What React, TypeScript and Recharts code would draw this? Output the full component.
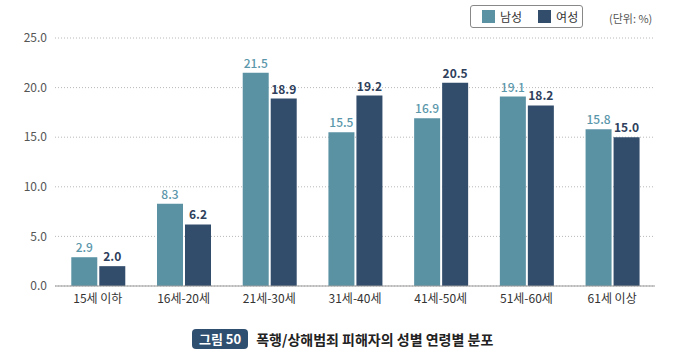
import { BarChart, Bar, XAxis, YAxis, CartesianGrid, LabelList } from 'recharts';

const categories = ['15세 이하', '16세-20세', '21세-30세', '31세-40세', '41세-50세', '51세-60세', '61세 이상'];
const maleValues = [2.9, 8.3, 21.5, 15.5, 16.9, 19.1, 15.8];
const femaleValues = [2.0, 6.2, 18.9, 19.2, 20.5, 18.2, 15.0];
const yTicks = [0, 5, 10, 15, 20, 25];

const MALE = '#5a92a4';
const FEMALE = '#324c6c';
const FONT = '"Noto Sans CJK KR", "Noto Sans", sans-serif';

const data = categories.map((name, i) => ({
  name,
  male: maleValues[i],
  female: femaleValues[i],
}));

function LegendBox() {
  const item = (color: string, label: string, mr: number) => (
    <span style={{ display: 'inline-flex', alignItems: 'center', marginRight: mr, whiteSpace: 'nowrap' }}>
      <span style={{ width: 13, height: 13, background: color, display: 'inline-block', marginRight: 5 }} />
      <span style={{ fontSize: 12, color: '#333', lineHeight: '14px' }}>{label}</span>
    </span>
  );
  return (
    <div
      style={{
        position: 'absolute',
        left: 470,
        top: 5,
        width: 113,
        height: 23,
        boxSizing: 'border-box',
        border: '1px solid #888',
        borderRadius: 3,
        paddingLeft: 11,
        display: 'flex',
        alignItems: 'center',
        fontFamily: FONT,
        background: '#fff',
      }}
    >
      {item(MALE, '남성', 16)}
      {item(FEMALE, '여성', 0)}
    </div>
  );
}

export default function App() {
  return (
    <div style={{ position: 'absolute', left: 0, top: 0, width: 675, height: 358, background: '#fff', fontFamily: FONT }}>
      <BarChart
        width={675}
        height={320}
        data={data}
        margin={{ top: 38, right: 20, left: 0, bottom: 4 }}
        barCategoryGap="19%"
        barGap={2}
      >
        <CartesianGrid vertical={false} stroke="#b8b8b8" strokeDasharray="1 2" />
        <XAxis
          dataKey="name"
          tick={{ fontSize: 12, fill: '#333', fontFamily: FONT }}
          tickLine={false}
          axisLine={{ stroke: '#999' }}
          interval={0}
        />
        <YAxis
          width={55}
          domain={[0, 25]}
          ticks={yTicks}
          tickFormatter={(v: number) => v.toFixed(1)}
          tick={{ fontSize: 12, fill: '#555', fontFamily: FONT }}
          tickLine={false}
          axisLine={false}
        />
        <Bar dataKey="male" fill={MALE} isAnimationActive={false}>
          <LabelList
            dataKey="male"
            position="top"
            formatter={(v: number) => v.toFixed(1)}
            style={{ fontSize: 12, fill: '#5b97ab', fontWeight: 500, fontFamily: FONT }}
          />
        </Bar>
        <Bar dataKey="female" fill={FEMALE} isAnimationActive={false}>
          <LabelList
            dataKey="female"
            position="top"
            formatter={(v: number) => v.toFixed(1)}
            style={{ fontSize: 12, fill: '#2e405c', fontWeight: 600, fontFamily: FONT }}
          />
        </Bar>
      </BarChart>
      <LegendBox />
      <div style={{ position: 'absolute', left: 609, top: 10, fontSize: 11, color: '#555' }}>(단위: %)</div>
      <div style={{ position: 'absolute', left: 192, top: 329, display: 'flex', alignItems: 'center' }}>
        <span
          style={{
            background: '#2f4f70',
            color: '#fff',
            fontWeight: 700,
            fontSize: 13,
            borderRadius: 4,
            padding: '1px 7px',
            lineHeight: '18px',
          }}
        >
          그림 50
        </span>
        <span style={{ marginLeft: 8, fontWeight: 700, fontSize: 14, color: '#222' }}>
          폭행/상해범죄 피해자의 성별 연령별 분포
        </span>
      </div>
    </div>
  );
}
